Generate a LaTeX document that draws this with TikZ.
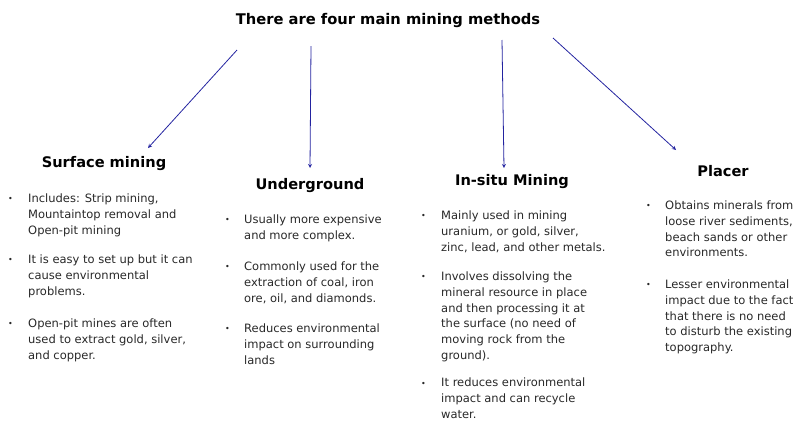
\documentclass[tikz,border=0pt]{standalone}
\usepackage{fontspec}
\setmainfont{DejaVu Sans}
\usetikzlibrary{positioning}
\definecolor{linkblue}{RGB}{35,35,160}
\definecolor{bodygray}{RGB}{40,40,40}

\begin{document}
\begin{tikzpicture}[x=1pt,y=-1pt,>=stealth,
  head/.style={inner sep=0pt,font=\bfseries\fontsize{14.6}{16}\selectfont},
  txt/.style={anchor=north west,inner sep=0pt,align=left,text=bodygray,
    font=\fontsize{11.5}{15.8}\selectfont,execute at begin node=\strut},
  dot/.style={anchor=base west,inner sep=0pt,text=bodygray,
    font=\fontsize{8}{15.8}\selectfont},
  link/.style={->,linkblue,line width=0.8pt}]
\useasboundingbox (0,0) rectangle (794,421);
\node[inner sep=0pt,font=\bfseries\fontsize{14.7}{16}\selectfont] (T) at (388,20){There are four main mining methods};

% four headings
\node[head] (S) at (104,164){Surface mining};
\node[head] (U) at (310,186){Underground};
\node[head] (I) at (512,182){In-situ Mining};
\node[head] (P) at (723,171){Placer};

% arrows
\coordinate (S0) at (237,50);  \coordinate (S1) at (148,148);
\coordinate (U0) at (311,46);  \coordinate (U1) at (310,168);
\coordinate (I0) at (502,40);  \coordinate (I1) at (504,168);
\coordinate (P0) at (553,38);  \coordinate (P1) at (676,150);
\draw[link](S0)--(S1);
\draw[link](U0)--(U1);
\draw[link](I0)--(I1);
\draw[link](P0)--(P1);

% surface mining
\node[dot] (Sb1) at (8,201.5){•};
\node[txt] (St1) at (28,193.5){Includes: Strip mining,\\Mountaintop removal and\\Open-pit mining};
\node[dot] (Sb2) at (8,262.5){•};
\node[txt] (St2) at (28,254.5){It is easy to set up but it can\\cause environmental\\problems.};
\node[dot] (Sb3) at (8,326.5){•};
\node[txt] (St3) at (28,318.5){Open-pit mines are often\\used to extract gold, silver,\\and copper.};

% underground
\node[dot] (Ub1) at (225,222.5){•};
\node[txt] (Ut1) at (244,214.5){Usually more expensive\\and more complex.};
\node[dot] (Ub2) at (225,269.5){•};
\node[txt] (Ut2) at (244,261.5){Commonly used for the\\extraction of coal, iron\\ore, oil, and diamonds.};
\node[dot] (Ub3) at (225,331.5){•};
\node[txt] (Ut3) at (244,323.5){Reduces environmental\\impact on surrounding\\lands};

% in-situ mining
\node[dot] (Ib1) at (421,218.5){•};
\node[txt] (It1) at (441,210.5){Mainly used in mining\\uranium, or gold, silver,\\zinc, lead, and other metals.};
\node[dot] (Ib2) at (421,279.5){•};
\node[txt] (It2) at (441,271.5){Involves dissolving the\\mineral resource in place\\and then processing it at\\the surface (no need of\\moving rock from the\\ground).};
\node[dot] (Ib3) at (421,386){•};
\node[txt] (It3) at (441,378){It reduces environmental\\impact and can recycle\\water.};

% placer
\node[dot] (Pb1) at (646,208.5){•};
\node[txt] (Pt1) at (665,200.5){Obtains minerals from\\loose river sediments,\\beach sands or other\\environments.};
\node[dot] (Pb2) at (646,287.5){•};
\node[txt] (Pt2) at (665,279.5){Lesser environmental\\impact due to the fact\\that there is no need\\to disturb the existing\\topography.};
\end{tikzpicture}
\end{document}
